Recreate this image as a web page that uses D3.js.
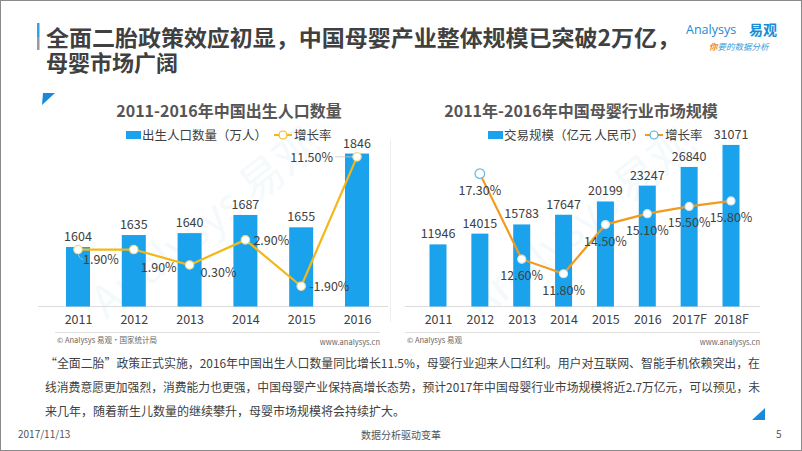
<!DOCTYPE html>
<html><head><meta charset="utf-8">
<script src="https://cdn.jsdelivr.net/npm/d3@7"></script>
<style>
html,body{margin:0;padding:0;background:#fff;}
svg{display:block;font-family:"Noto Sans CJK SC","Noto Sans",sans-serif;}
</style></head>
<body><svg id="c" width="802" height="451"></svg>
<script>
// ---- data ----
const years1 = ["2011","2012","2013","2014","2015","2016"];
const births = [1604,1635,1640,1687,1655,1846];
const birthGrowth = [1.9,1.9,0.3,2.9,-1.9,11.5];
const birthGrowthLabels = ["1.90%","1.90%","0.30%","2.90%","-1.90%","11.50%"];

const years2 = ["2011","2012","2013","2014","2015","2016","2017F","2018F"];
const market = [11946,14015,15783,17647,20199,23247,26840,31071];
const marketGrowth = [null,17.3,12.6,11.8,14.5,15.1,15.5,15.8];
const marketGrowthLabels = [null,"17.30%","12.60%","11.80%","14.50%","15.10%","15.50%","15.80%"];

const titleLines = ["全面二胎政策效应初显，中国母婴产业整体规模已突破2万亿，","母婴市场广阔"];
const chart1Title = "2011-2016年中国出生人口数量";
const chart2Title = "2011年-2016年中国母婴行业市场规模";
const legend1 = ["出生人口数量（万人）","增长率"];
const legend2 = ["交易规模（亿元 人民币）","增长率"];
const source1 = "© Analysys 易观·国家统计局";
const source2 = "© Analysys 易观";
const site = "www.analysys.cn";
const bodyLines = [
 "“全面二胎”政策正式实施，2016年中国出生人口数量同比增长11.5%，母婴行业迎来人口红利。用户对互联网、智能手机依赖突出，在",
 "线消费意愿更加强烈，消费能力也更强，中国母婴产业保持高增长态势，预计2017年中国母婴行业市场规模将近2.7万亿元，可以预见，未",
 "来几年，随着新生儿数量的继续攀升，母婴市场规模将会持续扩大。"
];
const footer = ["2017/11/13","数据分析驱动变革","5"];

// ---- drawing ----
const svg = d3.select("#c");
const BLUE = "#1AA3EC", TXT = "#404040";

svg.append("rect").attr("x",0.5).attr("y",0.5).attr("width",801).attr("height",450)
  .attr("fill","#fff").attr("stroke","#8a8a8a").attr("stroke-width",1);

// header (one wrapped text block)
svg.append("rect").attr("x",37).attr("y",23).attr("width",2.5).attr("height",14).attr("fill","#3A9FE0");
svg.append("rect").attr("x",37).attr("y",37).attr("width",2.5).attr("height",13).attr("fill","#9a9a9a");
const title = svg.append("text").attr("font-size",22).attr("font-weight",700).attr("fill",TXT);
titleLines.forEach((t,i)=>{
  const ts = title.append("tspan").attr("x",46).attr("y",45.5+i*25).text(t);
  if(i===0) ts.attr("textLength",634).attr("lengthAdjust","spacingAndGlyphs");
});
// logo
const logo = svg.append("g");
logo.append("text").attr("x",686).attr("y",34).attr("font-size",12.5).attr("fill","#1A8AD4")
  .attr("font-family","Open Sans").text("Analysys");
logo.append("text").attr("x",749).attr("y",35).attr("font-size",14).attr("font-weight",700).attr("fill","#1A8AD4").text("易观");
const sl = logo.append("text").attr("x",709).attr("y",50).attr("font-size",8.5).attr("font-style","italic");
sl.append("tspan").attr("fill","#F08A24").attr("font-weight",700).text("你");
sl.append("tspan").attr("fill","#3A9BD8").text("要的数据分析");

// corner triangles
svg.append("path").attr("d","M43,93L55,93L42,105Z").attr("fill","#1A8AD8");
svg.append("path").attr("d","M765,408L765,420L752,420Z").attr("fill","#1A8AD8");

// watermarks
[[215,235],[590,235]].forEach(([x,y])=>{
  svg.append("text").attr("transform",`translate(${x},${y}) rotate(-38)`).attr("text-anchor","middle")
    .attr("font-size",44).attr("fill","#1A8AD4").attr("opacity",0.045).text("Analysys 易观");
});

// separator
svg.append("line").attr("x1",390.5).attr("x2",390.5).attr("y1",140).attr("y2",322).attr("stroke","#eeeeee");

function chart(o){
  const g = svg.append("g");
  g.append("text").attr("x",o.titleX).attr("y",117).attr("text-anchor","middle")
    .attr("font-size",16).attr("font-weight",700).attr("fill","#555").text(o.title);
  // legend
  g.append("rect").attr("x",o.lx).attr("y",131).attr("width",15).attr("height",8).attr("fill",BLUE);
  g.append("text").attr("x",o.lx+16).attr("y",140).attr("font-size",12.5).attr("fill",TXT).text(o.legend[0]);
  g.append("line").attr("x1",o.llx).attr("x2",o.llx+18).attr("y1",135).attr("y2",135)
    .attr("stroke",o.lineColor).attr("stroke-width",2);
  g.append("circle").attr("cx",o.llx+9).attr("cy",135).attr("r",4).attr("fill","#fff")
    .attr("stroke",o.legendMarkerStroke).attr("stroke-width",1.2);
  g.append("text").attr("x",o.llx+20).attr("y",140).attr("font-size",12.5).attr("fill",TXT).text(o.legend[1]);

  const x = d3.scalePoint().domain(o.cats).range(o.xr);
  const y = d3.scaleLinear().domain(o.yd).range([306.5,o.ytop]);
  const y2 = d3.scaleLinear().domain(o.y2d).range([306.5,o.ytop]);

  // baseline
  g.append("line").attr("x1",o.bx[0]).attr("x2",o.bx[1]).attr("y1",306.5).attr("y2",306.5)
    .attr("stroke","#dcdcdc").attr("stroke-width",1);
  // bars
  g.selectAll(".bar").data(o.vals).join("rect")
    .attr("x",(d,i)=>x(o.cats[i])-o.bw/2).attr("width",o.bw)
    .attr("y",d=>y(d)).attr("height",d=>306.5-y(d)).attr("fill",BLUE);
  g.selectAll(".bl").data(o.vals).join("text")
    .attr("x",(d,i)=>x(o.cats[i])).attr("y",d=>y(d)-6).attr("text-anchor","middle")
    .attr("font-size",12.5).attr("fill",TXT).text(d=>d);
  // x axis labels
  const ax = d3.axisBottom(x).tickSize(0).tickPadding(0);
  const axg = g.append("g").attr("transform","translate(0,315)").call(ax);
  axg.select(".domain").remove();
  axg.selectAll("text").attr("font-size",12.5).attr("fill",TXT).attr("font-family","Noto Sans CJK SC");
  // footer
  g.append("line").attr("x1",o.fx[0]).attr("x2",o.fx[1]).attr("y1",332.5).attr("y2",332.5).attr("stroke","#e0e0e0");
  g.append("text").attr("x",o.fx[0]+2).attr("y",343).attr("font-size",7.5).attr("fill","#666").text(o.source);
  g.append("text").attr("x",o.fx[1]).attr("y",345).attr("text-anchor","end").attr("font-size",7.5).attr("fill","#666").text(site);

  // line
  const pts = o.growth.map((v,i)=>({v,i,c:o.cats[i],l:o.glabels[i]})).filter(d=>d.v!=null);
  const line = d3.line().x(d=>x(d.c)).y(d=>y2(d.v));
  g.append("path").datum(pts).attr("d",line).attr("fill","none").attr("stroke",o.lineColor).attr("stroke-width",2.2);
  return {g,x,y2,pts};
}

// chart 1
const c1 = chart({title:chart1Title,titleX:229,legend:legend1,lx:126,llx:274,lineColor:"#F4B718",legendMarkerStroke:"#F4B718",
  cats:years1,vals:births,growth:birthGrowth,glabels:birthGrowthLabels,xr:[78,357],yd:[1450,1850],y2d:[-4,12],ytop:152,
  bw:24,bx:[38,388],fx:[55,380],source:source1});
// leader lines (chart 1)
const lead = c1.g.append("g").attr("stroke","#c8c8c8").attr("fill","none").attr("stroke-width",0.8);
{
  const p0=c1.pts[0], p5=c1.pts[5];
  lead.append("path").attr("d",`M${c1.x(p0.c)},${c1.y2(p0.v)+3}Q${c1.x(p0.c)+1},${c1.y2(p0.v)+9} ${c1.x(p0.c)+5},${c1.y2(p0.v)+10}`);
  lead.append("line").attr("x1",c1.x(p5.c)-22).attr("x2",c1.x(p5.c)-4).attr("y1",c1.y2(p5.v)).attr("y2",c1.y2(p5.v));
}
const off1 = [[5,14,"start"],[7,22,"start"],[11,12,"start"],[8,5,"start"],[8,5,"start"],[-24,5,"end"]];
c1.g.selectAll(".pt").data(c1.pts).join("circle")
  .attr("cx",d=>c1.x(d.c)).attr("cy",d=>c1.y2(d.v)).attr("r",4.2)
  .attr("fill","#fff").attr("stroke","#f3dc8c").attr("stroke-width",1.2);
c1.g.selectAll(".gl").data(c1.pts).join("text")
  .attr("x",d=>c1.x(d.c)+off1[d.i][0]).attr("y",d=>c1.y2(d.v)+off1[d.i][1])
  .attr("text-anchor",d=>off1[d.i][2]).attr("font-size",12.5).attr("fill",TXT).text(d=>d.l);

// chart 2
const c2 = chart({title:chart2Title,titleX:581,legend:legend2,lx:488,llx:645,lineColor:"#F29A1E",legendMarkerStroke:"#4FB0E0",
  cats:years2,vals:market,growth:marketGrowth,glabels:marketGrowthLabels,xr:[438,731],yd:[0,35000],y2d:[10,20],ytop:124.5,
  bw:17,bx:[405,760],fx:[405,760],source:source2});
c2.g.selectAll(".pt").data(c2.pts).join("circle")
  .attr("cx",d=>c2.x(d.c)).attr("cy",d=>c2.y2(d.v)).attr("r",(d,i)=>i===0?4.8:4)
  .attr("fill","#fff").attr("stroke",(d,i)=>i===0?"#6BB8E2":"#cfe6f4").attr("stroke-width",1.2);
c2.g.selectAll(".gl").data(c2.pts).join("text")
  .attr("x",d=>c2.x(d.c)).attr("y",d=>c2.y2(d.v)+21).attr("text-anchor","middle")
  .attr("font-size",12.5).attr("fill",TXT).text(d=>d.l);

// body text
bodyLines.forEach((t,i)=>{
  const tt = svg.append("text").attr("x",45).attr("y",368+i*24).attr("font-size",12).attr("fill",TXT).text(t);
  if(i<2) tt.attr("textLength",715).attr("lengthAdjust","spacingAndGlyphs");
});
// footer
svg.append("text").attr("x",18).attr("y",438).attr("font-size",10).attr("fill","#555").text(footer[0]);
svg.append("text").attr("x",401).attr("y",439).attr("text-anchor","middle").attr("font-size",10).attr("fill","#555").text(footer[1]);
svg.append("text").attr("x",776).attr("y",438).attr("font-size",10).attr("fill","#555").text(footer[2]);
</script></body></html>
